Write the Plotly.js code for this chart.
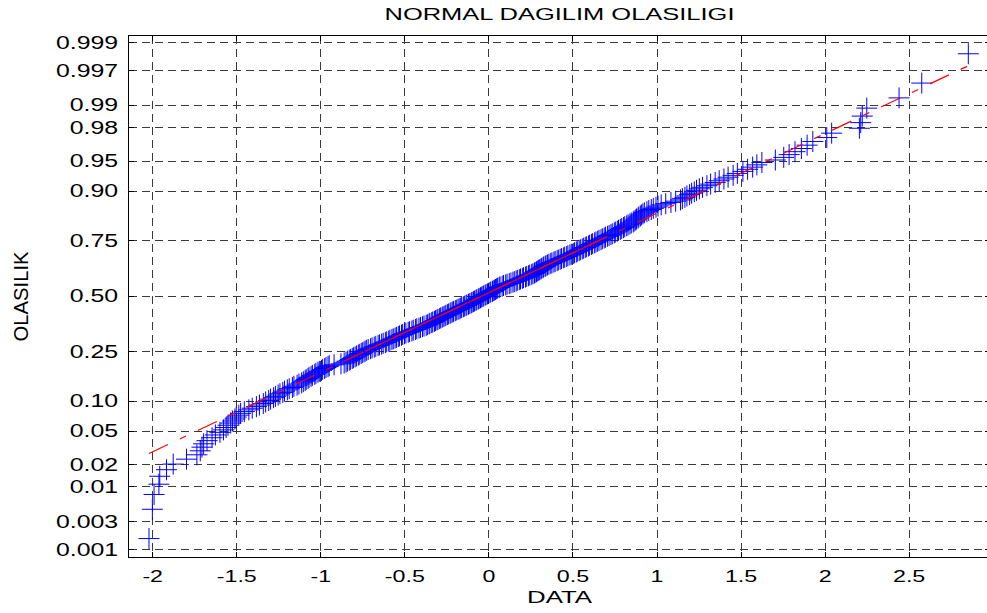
<!DOCTYPE html>
<html>
<head>
<meta charset="utf-8">
<script src="https://cdn.plot.ly/plotly-3.0.1.min.js"></script>
<style>
html,body{margin:0;padding:0;overflow:hidden;background:#fff;}
#plot{width:1000px;height:613px;}
</style>
</head>
<body>
<div id="plot"></div>
<script>
// ---- data (sorted sample values) ----
var sampleValues = [
-2.022,-2.002,-1.992,-1.963,-1.958,-1.918,-1.878,-1.799,-1.737,-1.717,
-1.707,-1.697,-1.677,-1.647,-1.627,-1.600,-1.579,-1.563,-1.552,-1.536,
-1.525,-1.511,-1.503,-1.488,-1.477,-1.455,-1.428,-1.408,-1.383,-1.365,
-1.342,-1.328,-1.310,-1.299,-1.281,-1.270,-1.254,-1.243,-1.226,-1.216,
-1.199,-1.188,-1.169,-1.160,-1.141,-1.130,-1.114,-1.104,-1.093,-1.087,
-1.076,-1.070,-1.058,-1.050,-1.036,-1.029,-1.017,-1.009,-0.996,-0.989,
-0.977,-0.969,-0.957,-0.950,-0.921,-0.880,-0.861,-0.850,-0.842,-0.831,
-0.824,-0.813,-0.806,-0.796,-0.788,-0.777,-0.771,-0.760,-0.753,-0.743,
-0.736,-0.727,-0.718,-0.704,-0.695,-0.682,-0.673,-0.659,-0.651,-0.638,
-0.629,-0.616,-0.608,-0.596,-0.589,-0.577,-0.569,-0.558,-0.550,-0.539,
-0.532,-0.520,-0.513,-0.502,-0.494,-0.480,-0.472,-0.458,-0.450,-0.437,
-0.429,-0.416,-0.407,-0.395,-0.386,-0.373,-0.366,-0.356,-0.351,-0.340,
-0.334,-0.324,-0.318,-0.309,-0.303,-0.293,-0.287,-0.278,-0.272,-0.262,
-0.256,-0.247,-0.241,-0.231,-0.225,-0.215,-0.210,-0.200,-0.194,-0.184,
-0.177,-0.168,-0.162,-0.152,-0.146,-0.136,-0.131,-0.121,-0.114,-0.105,
-0.100,-0.092,-0.086,-0.077,-0.072,-0.063,-0.058,-0.050,-0.045,-0.036,
-0.031,-0.022,-0.017,-0.008,-0.003,0.006,0.011,0.021,0.026,0.034,
0.039,0.046,0.052,0.061,0.066,0.079,0.087,0.100,0.108,0.121,
0.131,0.143,0.151,0.162,0.169,0.181,0.188,0.199,0.206,0.218,
0.225,0.236,0.243,0.255,0.262,0.271,0.275,0.283,0.288,0.296,
0.300,0.309,0.314,0.322,0.326,0.335,0.340,0.349,0.357,0.368,
0.375,0.387,0.394,0.406,0.413,0.424,0.432,0.443,0.451,0.463,
0.470,0.482,0.490,0.502,0.509,0.520,0.526,0.537,0.544,0.555,
0.562,0.573,0.580,0.592,0.599,0.610,0.617,0.629,0.637,0.647,
0.655,0.667,0.675,0.686,0.694,0.706,0.715,0.726,0.734,0.746,
0.752,0.764,0.771,0.782,0.790,0.801,0.808,0.820,0.828,0.839,
0.847,0.859,0.864,0.873,0.878,0.887,0.892,0.901,0.907,0.916,
0.925,0.940,0.951,0.966,0.978,0.994,1.006,1.025,1.052,1.083,
1.111,1.140,1.151,1.166,1.178,1.194,1.206,1.222,1.235,1.252,
1.271,1.297,1.319,1.346,1.370,1.398,1.423,1.453,1.478,1.511,
1.539,1.569,1.594,1.624,1.704,1.754,1.786,1.821,1.859,1.893,
1.927,2.010,2.039,2.204,2.212,2.221,2.248,2.440,2.575,2.852
];
var probTicks  = [0.001,0.003,0.01,0.02,0.05,0.10,0.25,0.50,0.75,0.90,0.95,0.98,0.99,0.997,0.999];
var probLabels = ['0.001','0.003','0.01','0.02','0.05','0.10','0.25','0.50','0.75','0.90','0.95','0.98','0.99','0.997','0.999'];
var xTicks      = [-2,-1.5,-1,-0.5,0,0.5,1,1.5,2,2.5];
var xTickLabels = ['-2','-1.5','-1','-0.5','0','0.5','1','1.5','2','2.5'];
var chartTitle = 'NORMAL DAGILIM OLASILIGI';
var xLabel = 'DATA';
var yLabel = 'OLASILIK';

// ---- normal probability scale (inverse normal CDF) ----
function norminv(p){
  var a=[-3.969683028665376e+01,2.209460984245205e+02,-2.759285104469687e+02,1.383577518672690e+02,-3.066479806614716e+01,2.506628277459239e+00];
  var b=[-5.447609879822406e+01,1.615858368580409e+02,-1.556989798598866e+02,6.680131188771972e+01,-1.328068155288572e+01];
  var c=[-7.784894002430293e-03,-3.223964580411365e-01,-2.400758277161838e+00,-2.549732539343734e+00,4.374664141464968e+00,2.938163982698783e+00];
  var d=[7.784695709041462e-03,3.224671290700398e-01,2.445134137142996e+00,3.754408661907416e+00];
  var pl=0.02425,ph=1-pl,q,r;
  if(p<pl){q=Math.sqrt(-2*Math.log(p));return (((((c[0]*q+c[1])*q+c[2])*q+c[3])*q+c[4])*q+c[5])/((((d[0]*q+d[1])*q+d[2])*q+d[3])*q+1);}
  if(p>ph){q=Math.sqrt(-2*Math.log(1-p));return -(((((c[0]*q+c[1])*q+c[2])*q+c[3])*q+c[4])*q+c[5])/((((d[0]*q+d[1])*q+d[2])*q+d[3])*q+1);}
  q=p-0.5;r=q*q;return (((((a[0]*r+a[1])*r+a[2])*r+a[3])*r+a[4])*r+a[5])*q/(((((b[0]*r+b[1])*r+b[2])*r+b[3])*r+b[4])*r+1);
}

var xs = sampleValues.slice().sort(function(a,b){return a-b;});
var n = xs.length;
var ys = xs.map(function(v,i){return norminv((i+0.5)/n);});

// quartiles (MATLAB prctile convention)
function prctile(arr,pc){
  var pos = pc/100*arr.length + 0.5; // 1-based
  if(pos<=1) return arr[0];
  if(pos>=arr.length) return arr[arr.length-1];
  var lo=Math.floor(pos), f=pos-lo;
  return arr[lo-1]+f*(arr[lo]-arr[lo-1]);
}
var q1 = prctile(xs,25), q3 = prctile(xs,75);
var z1 = norminv(0.25), z3 = norminv(0.75);
var slope = (z3-z1)/(q3-q1);
function lineY(x){return z1+slope*(x-q1);}
var xmin = xs[0], xmax = xs[n-1];

var traces = [
  {x: xs, y: ys, type:'scatter', mode:'markers',
   marker:{symbol:'cross-thin', size:15, color:'#0000ff', line:{color:'#0000ff', width:1}},
   hoverinfo:'skip'},
  {x:[xmin,xmax], y:[lineY(xmin),lineY(xmax)], type:'scatter', mode:'lines',
   line:{color:'#ff0000', width:1.2, dash:'21px,13px,7px,13px'}, hoverinfo:'skip'},
  {x:[q1,q3], y:[z1,z3], type:'scatter', mode:'lines',
   line:{color:'#ff0000', width:1.2}, hoverinfo:'skip'}
];

var fontFam = 'Liberation Sans, Arial, Helvetica, sans-serif';
var layout = {
  width:1000, height:613,
  margin:{l:129, r:10, t:36, b:56, pad:0},
  paper_bgcolor:'#ffffff', plot_bgcolor:'#ffffff',
  showlegend:false,
  font:{family:fontFam, color:'#000000'},
  title:{text:chartTitle, font:{family:fontFam, size:17, color:'#000'},
         x:0.5, xref:'paper', y:1-14/613, yref:'container', yanchor:'middle'},
  xaxis:{
    range:[-2.141, 2.981], tickmode:'array', tickvals:xTicks, ticktext:xTickLabels,
    ticks:'inside', ticklen:5, tickcolor:'#000', tickwidth:1,
    showline:true, linecolor:'#000', linewidth:1.3, mirror:'ticks',
    showgrid:true, gridcolor:'#3a3a3a', gridwidth:1, griddash:'8px,5px',
    zeroline:false, tickfont:{family:fontFam, size:16, color:'#000'},
    ticklabelstandoff:4,
    title:{text:xLabel, font:{family:fontFam, size:16, color:'#000'}, standoff:8}
  },
  yaxis:{
    range:[-3.180, 3.172], tickmode:'array', tickvals:probTicks.map(norminv), ticktext:probLabels,
    ticks:'inside', ticklen:5, tickcolor:'#000', tickwidth:1,
    showline:true, linecolor:'#000', linewidth:1.3, mirror:'ticks',
    showgrid:true, gridcolor:'#3a3a3a', gridwidth:1, griddash:'8px,5px',
    zeroline:false, tickfont:{family:fontFam, size:17.5, color:'#000'},
    ticklabelstandoff:6,
    title:{text:yLabel, font:{family:fontFam, size:21, color:'#000'}, standoff:40}
  }
};

function stretchText(el, factor, fixed){
  if(!el) return;
  var w = el.getComputedTextLength();
  var L = fixed ? fixed : w*factor;
  el.setAttribute('textLength', L.toFixed(1));
  el.setAttribute('lengthAdjust','spacingAndGlyphs');
}

Plotly.newPlot('plot', traces, layout, {staticPlot:true, displayModeBar:false}).then(function(gd){
  gd.querySelectorAll('.xtick text').forEach(function(t){stretchText(t,1.45);});
  gd.querySelectorAll('.ytick text').forEach(function(t){stretchText(t,1.42);});
  stretchText(gd.querySelector('.gtitle'),0,350);
  stretchText(gd.querySelector('.xtitle'),0,65);
  stretchText(gd.querySelector('.ytitle'),0,90);
});
</script>
</body>
</html>
